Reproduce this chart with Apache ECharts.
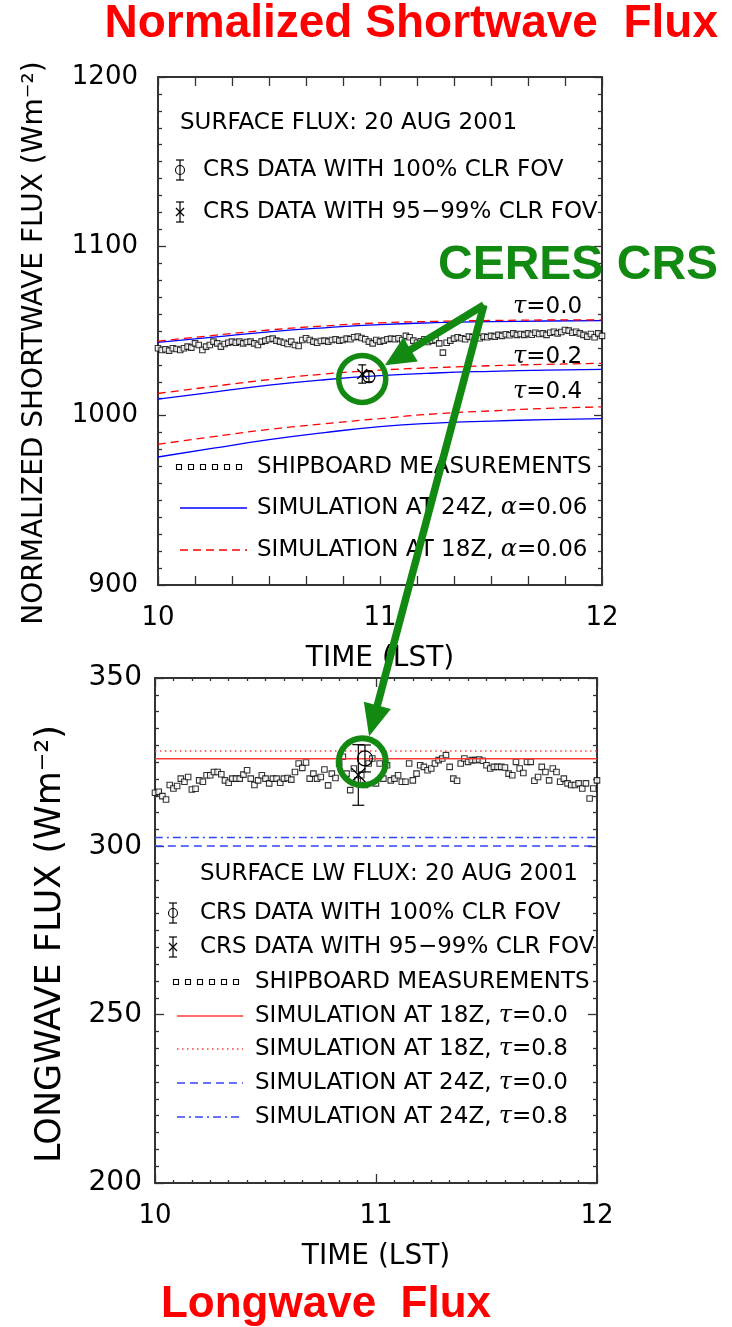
<!DOCTYPE html>
<html>
<head>
<meta charset="utf-8">
<script src="https://cdn.jsdelivr.net/npm/echarts@6/dist/echarts.min.js"></script>
<style>
  html, body { margin: 0; padding: 0; background: #fff; }
  #chart { width: 732px; height: 1327px; }
</style>
</head>
<body>
<div id="chart"></div>
<script>
// ---- Shortwave panel: simulated curves (Wm-2) on a quarter-hour grid ----
const simTimes = [10, 10.25, 10.5, 10.75, 11, 11.25, 11.5, 11.75, 12];
const sw24Tau00 = [1043.3, 1046.4, 1049.5, 1051.9, 1053.8, 1054.9, 1055.5, 1055.9, 1056.1];
const sw18Tau00 = [1044.0, 1047.4, 1050.6, 1053.0, 1054.8, 1055.7, 1056.2, 1056.5, 1056.6];
const sw24Tau02 = [1009.8, 1013.9, 1018.0, 1021.2, 1023.6, 1025.2, 1026.2, 1026.9, 1027.3];
const sw18Tau02 = [1013.1, 1017.3, 1021.3, 1024.6, 1026.9, 1028.4, 1029.5, 1030.3, 1030.9];
const sw24Tau04 = [975.6, 980.8, 985.8, 990.0, 993.5, 995.6, 996.8, 997.7, 998.3];
const sw18Tau04 = [983.1, 987.6, 991.9, 995.2, 998.3, 1001.1, 1002.8, 1004.3, 1005.2];

// Shipboard shortwave, one reading per minute from 10:00 to 12:00 LST
const shipSW = [
  1039.8, 1038.8, 1039.2, 1038.4, 1039.8, 1039.4, 1038.8, 1039.8, 1040.8, 1040.2,
  1042.7, 1041.7, 1038.8, 1040.8, 1041.7, 1043.7, 1042.7, 1040.8, 1042.3, 1043.1,
  1043.7, 1043.1, 1043.7, 1042.7, 1043.5, 1043.7, 1042.7, 1041.7, 1043.7, 1044.3,
  1045.1, 1045.5, 1044.3, 1043.7, 1043.1, 1042.3, 1043.7, 1041.7, 1041.1, 1044.7,
  1045.7, 1044.7, 1043.7, 1043.1, 1044.1, 1044.3, 1043.7, 1044.7, 1045.1, 1044.3,
  1044.7, 1045.5, 1045.1, 1046.3, 1046.7, 1045.9, 1045.1, 1043.7, 1042.7, 1044.7,
  1043.7, 1044.3, 1045.1, 1045.5, 1045.1, 1045.7, 1044.7, 1047.1, 1046.3, 1044.3,
  1043.1, 1043.9, 1045.1, 1043.5, 1044.3, 1044.7, 1042.7, 1037.2, 1043.1, 1044.3,
  1045.5, 1046.3, 1045.7, 1045.1, 1046.7, 1046.3, 1047.1, 1045.7, 1046.7, 1046.3,
  1047.1, 1046.7, 1047.7, 1047.1, 1048.1, 1047.5, 1048.6, 1047.7, 1048.2, 1047.7,
  1048.6, 1047.8, 1049.0, 1048.2, 1048.6, 1047.7, 1049.0, 1049.6, 1048.6, 1049.4,
  1050.6, 1050.2, 1049.0, 1049.6, 1048.6, 1047.7, 1046.7, 1048.2, 1046.3, 1048.6,
  1047.1
];

// CERES CRS retrievals: [time, flux, error half-width]
const crsSWClear100 = [[10.95, 1023.0, 3.0]];
const crsSWClear95 = [[10.92, 1024.6, 5.4]];

// ---- Longwave panel ----
const lwTimes = [10, 12];
const lw18Tau00 = [326.0, 326.0];
const lw18Tau08 = [328.3, 328.3];
const lw24Tau00 = [300.1, 300.1];
const lw24Tau08 = [302.6, 302.6];

const shipLW = [
  315.9, 316.2, 314.9, 313.9, 318.2, 317.2, 317.9, 320.1, 319.2, 320.6,
  316.9, 317.1, 319.6, 319.2, 321.1, 321.1, 322.1, 322.1, 321.4, 319.6,
  318.9, 320.1, 320.1, 320.1, 321.3, 322.6, 320.1, 318.2, 319.6, 321.1,
  320.1, 318.7, 320.1, 320.1, 318.9, 320.1, 320.3, 319.8, 322.1, 324.6,
  323.3, 324.9, 320.1, 321.6, 320.1, 320.6, 322.8, 318.1, 321.6, 320.3,
  324.6, 326.6, 321.6, 316.7, 323.1, 319.6, 321.1, 318.2, 324.6, 326.1,
  318.7, 324.6, 320.1, 324.1, 319.6, 320.1, 321.1, 319.2, 319.2, 324.6,
  319.6, 321.6, 324.1, 323.6, 322.6, 323.1, 324.6, 325.6, 326.1, 327.1,
  323.6, 320.1, 319.5, 324.6, 326.1, 325.1, 325.6, 325.6, 325.8, 325.4,
  324.1, 323.1, 323.6, 323.6, 323.6, 323.4, 321.6, 321.1, 325.1, 323.1,
  321.8, 325.1, 325.1, 319.5, 320.6, 323.6, 322.1, 319.6, 323.1, 322.1,
  319.2, 320.1, 318.7, 318.2, 318.2, 318.7, 317.2, 318.7, 314.2, 317.2,
  319.6
];

const crsLWClear100 = [[10.95, 326.1, 4.0]];
const crsLWClear95 = [[10.92, 321.2, 9.0]];

// Highlighted retrievals and the label's arrow origin (data coordinates)
const swHighlight = [10.92, 1021.7];
const lwHighlight = [10.938, 325.1];
const arrowOrigin = [11.468, 1065.4];

// Tick values
const swTicks = { min: 900, max: 1200, step: 100 };
const lwTicks = { min: 200, max: 350, step: 50 };
const timeTicks = { min: 10, max: 12, step: 1 };

// ---- styling ----
const FONT = "'DejaVu Sans', 'Liberation Sans', sans-serif";
const TITLE_FONT = "'Liberation Sans', Arial, sans-serif";
const AX = '#333';
const GREEN = '#128a12';
const BLUE = '#0000ff';
const RED = '#ff0000';

const minutes = arr => arr.map((_, i) => 10 + i / 60);
const pairs = (xs, ys) => xs.map((x, i) => [x, ys[i]]);

function xAxisDef(grid, pos, minorSplit, majorLen, minorLen, showLabel) {
  return {
    gridIndex: grid, type: 'value', position: pos,
    min: timeTicks.min, max: timeTicks.max, interval: timeTicks.step,
    axisLine: { show: true, onZero: false, lineStyle: { color: AX, width: 2 } },
    axisTick: { show: true, inside: true, length: majorLen, lineStyle: { color: AX, width: 1.3 } },
    minorTick: { show: true, splitNumber: minorSplit, length: minorLen, lineStyle: { color: AX, width: 1.3 } },
    axisLabel: { show: showLabel, margin: 20, color: '#000', fontFamily: FONT, fontSize: 26,
      formatter: v => String(v) },
    splitLine: { show: false }, minorSplitLine: { show: false },
    name: showLabel ? 'TIME (LST)' : '', nameLocation: 'middle', nameGap: 60,
    nameTextStyle: { color: '#000', fontFamily: FONT, fontSize: 28 }
  };
}
function yAxisDef(grid, pos, t, majorLen, minorLen, showLabel, margin, size) {
  return {
    gridIndex: grid, type: 'value', position: pos,
    min: t.min, max: t.max, interval: t.step,
    axisLine: { show: true, onZero: false, lineStyle: { color: AX, width: 2 } },
    axisTick: { show: true, inside: true, length: majorLen, lineStyle: { color: AX, width: 1.3 } },
    minorTick: { show: true, splitNumber: 10, length: minorLen, lineStyle: { color: AX, width: 1.3 } },
    axisLabel: { show: showLabel, margin: margin, color: '#000', fontFamily: FONT, fontSize: size || 26,
      formatter: v => String(v) },
    splitLine: { show: false }, minorSplitLine: { show: false }
  };
}

function crsRender(kind, size) {
  return function (params, api) {
    const x = api.value(0), y = api.value(1), e = api.value(2);
    const c = api.coord([x, y]);
    const hi = api.coord([x, y + e]);
    const lo = api.coord([x, y - e]);
    const st = { stroke: '#000', lineWidth: 1.2 };
    const cap = size.cap;
    const kids = [
      { type: 'line', shape: { x1: c[0], y1: hi[1], x2: c[0], y2: lo[1] }, style: st },
      { type: 'line', shape: { x1: c[0] - cap, y1: hi[1], x2: c[0] + cap, y2: hi[1] }, style: st },
      { type: 'line', shape: { x1: c[0] - cap, y1: lo[1], x2: c[0] + cap, y2: lo[1] }, style: st }
    ];
    if (kind === 'circle') {
      kids.push({ type: 'circle', shape: { cx: c[0], cy: c[1], r: size.r }, style: { stroke: '#000', fill: 'none', lineWidth: 1.2 } });
    } else {
      const s = size.r;
      kids.push({ type: 'line', shape: { x1: c[0] - s, y1: c[1] - s, x2: c[0] + s, y2: c[1] + s }, style: st });
      kids.push({ type: 'line', shape: { x1: c[0] - s, y1: c[1] + s, x2: c[0] + s, y2: c[1] - s }, style: st });
    }
    return { type: 'group', children: kids };
  };
}

function simLine(name, xi, yi, xs, ys, color, type, width) {
  return {
    name, type: 'line', xAxisIndex: xi, yAxisIndex: yi, data: pairs(xs, ys),
    showSymbol: false, smooth: 0.5, silent: true, z: 3,
    lineStyle: { color, type, width }
  };
}

const shipStyle = { color: '#fff', borderColor: '#000', borderWidth: 1.1 };

const chart = echarts.init(document.getElementById('chart'), null, { renderer: 'canvas' });

chart.setOption({
  animation: false,
  backgroundColor: '#fff',
  grid: [
    { left: 158, top: 77, width: 444, height: 508, containLabel: false, outerBoundsMode: 'none' },
    { left: 155, top: 678, width: 442, height: 505, containLabel: false, outerBoundsMode: 'none' }
  ],
  xAxis: [
    xAxisDef(0, 'bottom', 6, 9, 9, true),
    xAxisDef(0, 'top', 6, 9, 9, false),
    xAxisDef(1, 'bottom', 12, 9, 3, true),
    xAxisDef(1, 'top', 12, 9, 3, false)
  ],
  yAxis: [
    yAxisDef(0, 'left', swTicks, 8, 4, true, 20, 26),
    yAxisDef(0, 'right', swTicks, 8, 4, false, 0),
    yAxisDef(1, 'left', lwTicks, 9, 4, true, 13, 28),
    yAxisDef(1, 'right', lwTicks, 9, 4, false, 0)
  ],
  series: [
    // shortwave panel
    { name: 'SHIPBOARD MEASUREMENTS', type: 'scatter', xAxisIndex: 0, yAxisIndex: 0,
      data: pairs(minutes(shipSW), shipSW), symbol: 'rect', symbolSize: 5.5, itemStyle: shipStyle, z: 2 },
    simLine('24Z tau 0.0', 0, 0, simTimes, sw24Tau00, BLUE, 'solid', 1.3),
    simLine('18Z tau 0.0', 0, 0, simTimes, sw18Tau00, RED, [8, 5], 1.3),
    simLine('24Z tau 0.2', 0, 0, simTimes, sw24Tau02, BLUE, 'solid', 1.3),
    simLine('18Z tau 0.2', 0, 0, simTimes, sw18Tau02, RED, [8, 5], 1.3),
    simLine('24Z tau 0.4', 0, 0, simTimes, sw24Tau04, BLUE, 'solid', 1.3),
    simLine('18Z tau 0.4', 0, 0, simTimes, sw18Tau04, RED, [8, 5], 1.3),
    { type: 'custom', xAxisIndex: 0, yAxisIndex: 0, data: crsSWClear100, z: 5,
      renderItem: crsRender('circle', { cap: 4, r: 6 }) },
    { type: 'custom', xAxisIndex: 0, yAxisIndex: 0, data: crsSWClear95, z: 5,
      renderItem: crsRender('cross', { cap: 4, r: 5 }) },
    // longwave panel
    { name: 'SHIPBOARD LW', type: 'scatter', xAxisIndex: 2, yAxisIndex: 2,
      data: pairs(minutes(shipLW), shipLW), symbol: 'rect', symbolSize: 5.5, itemStyle: shipStyle, z: 2 },
    simLine('LW 18Z tau 0.0', 2, 2, lwTimes, lw18Tau00, '#ff3b3b', 'solid', 1.5),
    simLine('LW 18Z tau 0.8', 2, 2, lwTimes, lw18Tau08, '#ff3b3b', [1.5, 3.5], 1.4),
    simLine('LW 24Z tau 0.0', 2, 2, lwTimes, lw24Tau00, '#3344ff', [8, 5], 1.5),
    simLine('LW 24Z tau 0.8', 2, 2, lwTimes, lw24Tau08, '#3344ff', [8, 4, 2, 4], 1.5),
    { type: 'custom', xAxisIndex: 2, yAxisIndex: 2, data: crsLWClear100, z: 5,
      renderItem: crsRender('circle', { cap: 6, r: 7.5 }) },
    { type: 'custom', xAxisIndex: 2, yAxisIndex: 2, data: crsLWClear95, z: 5,
      renderItem: crsRender('cross', { cap: 6, r: 7 }) }
  ]
});

// ---- annotations, legends and titles ----
const g = [];
const TXT = { font: '23px ' + FONT, fill: '#000', verticalAlign: 'middle', align: 'left' };
const RICH = {
  g: { fontFamily: "'DejaVu Serif', serif", fontStyle: 'italic', fontSize: 24, fill: '#000' }
};
function text(x, y, str, extra) {
  g.push({ type: 'text', x, y, z: 50, style: Object.assign({ text: str, rich: RICH }, TXT, extra || {}) });
}
function seg(x1, y1, x2, y2, stroke, width, dash) {
  g.push({ type: 'line', z: 50, shape: { x1, y1, x2, y2 },
    style: { stroke, lineWidth: width, lineDash: dash || null } });
}
function errGlyph(x, y, kind, h, cap, r) {
  seg(x, y - h / 2, x, y + h / 2, '#000', 1.2);
  seg(x - cap, y - h / 2, x + cap, y - h / 2, '#000', 1.2);
  seg(x - cap, y + h / 2, x + cap, y + h / 2, '#000', 1.2);
  if (kind === 'circle') {
    g.push({ type: 'circle', z: 50, shape: { cx: x, cy: y, r }, style: { stroke: '#000', fill: 'none', lineWidth: 1.1 } });
  } else {
    seg(x - r, y - r, x + r, y + r, '#000', 1.2);
    seg(x - r, y + r, x + r, y - r, '#000', 1.2);
  }
}
function squares(x0, y, n, step) {
  for (let i = 0; i < n; i++) {
    g.push({ type: 'rect', z: 50, shape: { x: x0 + i * step - 2.5, y: y - 2.5, width: 5, height: 5 },
      style: { stroke: '#000', fill: '#fff', lineWidth: 1.1 } });
  }
}

// shortwave legend
text(180, 123, 'SURFACE FLUX: 20 AUG 2001');
errGlyph(180, 170, 'circle', 20, 4, 4.5);
text(203, 170, 'CRS DATA WITH 100% CLR FOV');
errGlyph(180, 212, 'cross', 20, 4, 4);
text(203, 212, 'CRS DATA WITH 95\u221299% CLR FOV');
text(513, 307, '{g|\u03c4}=0.0');
text(513, 357, '{g|\u03c4}=0.2');
text(513, 392, '{g|\u03c4}=0.4');
squares(179, 467, 6, 12);
text(257, 467, 'SHIPBOARD MEASUREMENTS');
seg(180, 508, 247, 508, BLUE, 1.3);
text(257, 508, 'SIMULATION AT 24Z, {g|\u03b1}=0.06');
seg(180, 550, 247, 550, RED, 1.3, [8, 5]);
text(257, 550, 'SIMULATION AT 18Z, {g|\u03b1}=0.06');

// longwave legend
text(200, 874, 'SURFACE LW FLUX: 20 AUG 2001');
errGlyph(173, 913, 'circle', 20, 4, 4.5);
text(200, 913, 'CRS DATA WITH 100% CLR FOV');
errGlyph(173, 947, 'cross', 20, 4, 4);
text(200, 947, 'CRS DATA WITH 95\u221299% CLR FOV');
squares(176, 982, 6, 12);
text(255, 982, 'SHIPBOARD MEASUREMENTS');
seg(177, 1016, 243, 1016, '#ff3b3b', 1.5);
text(255, 1016, 'SIMULATION AT 18Z, {g|\u03c4}=0.0');
seg(177, 1049, 243, 1049, '#ff3b3b', 1.4, [1.5, 3.5]);
text(255, 1049, 'SIMULATION AT 18Z, {g|\u03c4}=0.8');
seg(177, 1083, 243, 1083, '#3344ff', 1.5, [8, 5]);
text(255, 1083, 'SIMULATION AT 24Z, {g|\u03c4}=0.0');
seg(177, 1117, 243, 1117, '#3344ff', 1.5, [8, 4, 2, 4]);
text(255, 1117, 'SIMULATION AT 24Z, {g|\u03c4}=0.8');

// y axis titles
g.push({ type: 'text', x: 35, y: 343, rotation: Math.PI / 2, z: 50,
  style: { text: 'NORMALIZED SHORTWAVE FLUX (Wm\u207b\u00b2)', font: '28px ' + FONT, fill: '#000', align: 'center', verticalAlign: 'middle' } });
g.push({ type: 'text', x: 51, y: 944, rotation: Math.PI / 2, z: 50,
  style: { text: 'LONGWAVE FLUX (Wm\u207b\u00b2)', font: '35px ' + FONT, fill: '#000', align: 'center', verticalAlign: 'middle' } });

// red panel titles
g.push({ type: 'text', x: 718, y: 24, z: 60,
  style: { text: 'Normalized Shortwave  Flux', font: 'bold 46px ' + TITLE_FONT, fill: RED, align: 'right', verticalAlign: 'middle' } });
g.push({ type: 'text', x: 326, y: 1305, z: 60,
  style: { text: 'Longwave  Flux', font: 'bold 44px ' + TITLE_FONT, fill: RED, align: 'center', verticalAlign: 'middle' } });

// CERES CRS callout: rings around the retrievals and arrows from the label
const swC = chart.convertToPixel({ gridIndex: 0 }, swHighlight);
const lwC = chart.convertToPixel({ gridIndex: 1 }, lwHighlight);
const orig = chart.convertToPixel({ gridIndex: 0 }, arrowOrigin);
const ringR = 23.5;
g.push({ type: 'circle', z: 70, shape: { cx: swC[0], cy: swC[1], r: ringR }, style: { stroke: GREEN, fill: 'none', lineWidth: 5.5 } });
g.push({ type: 'circle', z: 70, shape: { cx: lwC[0], cy: lwC[1], r: ringR }, style: { stroke: GREEN, fill: 'none', lineWidth: 6 } });

function arrow(from, center, gap, width, headLen, headHalf) {
  const dx = center[0] - from[0], dy = center[1] - from[1];
  const L = Math.hypot(dx, dy), ux = dx / L, uy = dy / L;
  const tip = [center[0] - ux * gap, center[1] - uy * gap];
  const bx = tip[0] - ux * headLen, by = tip[1] - uy * headLen;
  g.push({ type: 'line', z: 70, shape: { x1: from[0], y1: from[1], x2: bx + ux * 2, y2: by + uy * 2 },
    style: { stroke: GREEN, lineWidth: width } });
  g.push({ type: 'polygon', z: 70, shape: { points: [tip, [bx - uy * headHalf, by + ux * headHalf], [bx + uy * headHalf, by - ux * headHalf]] },
    style: { fill: GREEN } });
}
arrow(orig, swC, ringR + 3, 7.5, 30, 14);
arrow(orig, lwC, ringR + 3, 7.5, 32, 14);

g.push({ type: 'text', x: 438, y: 266, z: 80,
  style: { text: 'CERES CRS', font: 'bold 48px ' + TITLE_FONT, fill: GREEN, align: 'left', verticalAlign: 'middle' } });

chart.setOption({ graphic: g });
</script>
</body>
</html>
